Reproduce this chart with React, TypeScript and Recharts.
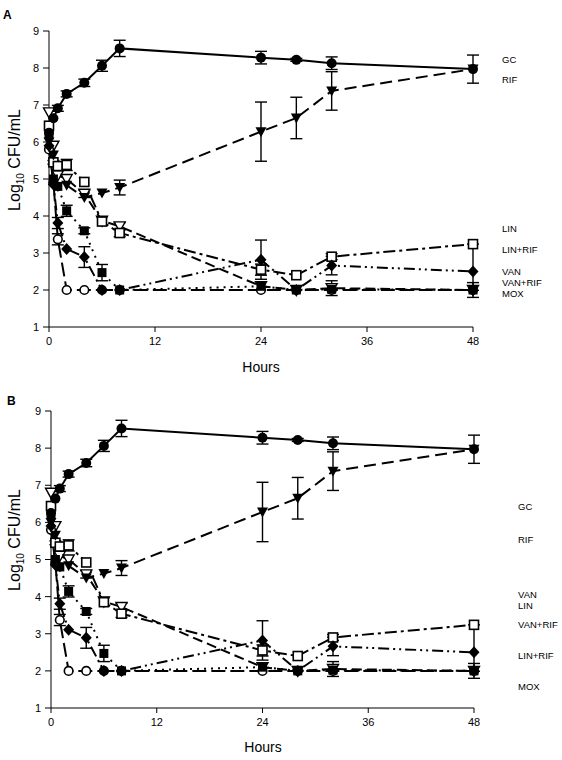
import React from 'react'
import { LineChart, Line, XAxis, YAxis, ErrorBar } from 'recharts'

// sampling times (h)
const hours = [0, 0.5, 1, 2, 4, 6, 8, 24, 28, 32, 48]

// log10 CFU/mL per regimen
const gc = [6.25, 6.64, 6.91, 7.3, 7.6, 8.06, 8.53, 8.28, 8.22, 8.13, 7.97]
const rif = [6.0, 5.65, 4.8, 4.83, 4.5, 4.62, 4.77, 6.28, 6.65, 7.38, 7.97]
const lin = [6.8, 5.9, 5.1, 5.0, 4.6, 3.87, 3.72, 2.1, 2.0, 2.05, 2.0]
const linRif = [6.44, 5.45, 5.35, 5.38, 4.92, 3.85, 3.54, 2.55, 2.4, 2.9, 3.24]
const van = [5.9, 4.85, 3.81, 3.11, 2.89, 2.0, 2.0, 2.82, 2.0, 2.66, 2.5]
const vanRif = [5.8, 4.9, 3.37, 2.0, 2.0, 2.0, 2.0, 2.0, 2.0, 2.0, 2.0]
const mox = [6.2, 5.0, 4.8, 4.14, 3.6, 2.47, 2.0, 2.1, 2.0, 2.02, 2.0]

// error bars (SD)
const gcErr = [0, 0, 0.08, 0.08, 0.1, 0.15, 0.22, 0.17, 0.04, 0.17, 0.38]
const rifErr = [0, 0, 0, 0, 0, 0, 0.2, 0.8, 0.56, 0.52, 0]
const linErr = [0, 0, 0, 0, 0.1, 0, 0.1, 0, 0, 0.2, 0]
const linRifErr: any[] = [0, 0.05, 0.1, 0.15, 0, 0, 0.1, 0.15, 0, 0.08, [1.25, 0]]
const vanErr = [0, 0, 0.15, 0, 0.28, 0, 0, 0.53, 0, 0.25, 0]
const vanRifErr = [0, 0, 0.15, 0, 0, 0, 0, 0, 0, 0, 0]
const moxErr = [0, 0, 0, 0.15, 0.08, 0.22, 0, 0, 0, 0, 0.2]

const xTicks = [0, 12, 24, 36, 48]
const yTicks = [1, 2, 3, 4, 5, 6, 7, 8, 9]

const labelsA = ['GC', 'RIF', 'LIN', 'LIN+RIF', 'VAN', 'VAN+RIF', 'MOX']
const labelsB = ['GC', 'RIF', 'VAN', 'LIN', 'VAN+RIF', 'LIN+RIF', 'MOX']

const data = hours.map((h, i) => ({
  h,
  gc: gc[i], gcErr: gcErr[i],
  rif: rif[i], rifErr: rifErr[i],
  lin: lin[i], linErr: linErr[i],
  linRif: linRif[i], linRifErr: linRifErr[i],
  van: van[i], vanErr: vanErr[i],
  vanRif: vanRif[i], vanRifErr: vanRifErr[i],
  mox: mox[i], moxErr: moxErr[i],
}))

const FONT = '"Liberation Sans", Arial, sans-serif'

function Mark({ cx, cy, shape }: { cx: number, cy: number, shape: string }) {
  if (cx == null || cy == null) return null
  switch (shape) {
    case 'circle':
      return <circle cx={cx} cy={cy} r={5} fill="#000" />
    case 'ocircle':
      return <circle cx={cx} cy={cy} r={4.3} fill="#fff" stroke="#000" strokeWidth={1.6} />
    case 'tri':
      return <polygon points={`${cx - 5.5},${cy - 4.5} ${cx + 5.5},${cy - 4.5} ${cx},${cy + 5.5}`} fill="#000" />
    case 'otri':
      return <polygon points={`${cx - 5.5},${cy - 4.5} ${cx + 5.5},${cy - 4.5} ${cx},${cy + 5.5}`} fill="#fff" stroke="#000" strokeWidth={1.4} />
    case 'osq':
      return <rect x={cx - 4.5} y={cy - 4.5} width={9} height={9} fill="#fff" stroke="#000" strokeWidth={1.6} />
    case 'sq':
      return <rect x={cx - 4.5} y={cy - 4.5} width={9} height={9} fill="#000" />
    default:
      return <polygon points={`${cx},${cy - 6} ${cx + 5.5},${cy} ${cx},${cy + 6} ${cx - 5.5},${cy}`} fill="#000" />
  }
}

const dotOf = (shape: string) => (p: any) => <Mark key={`${shape}-${p.index}`} cx={p.cx} cy={p.cy} shape={shape} />

// drawing order: open markers underneath, filled ones on top
const series = [
  { key: 'lin', shape: 'otri', dash: '10 5' },
  { key: 'vanRif', shape: 'ocircle', dash: '14 5' },
  { key: 'linRif', shape: 'osq', dash: '12 4 3 4' },
  { key: 'van', shape: 'diamond', dash: '11 4 2 4 2 4' },
  { key: 'mox', shape: 'sq', dash: '2 5' },
  { key: 'rif', shape: 'tri', dash: '12 6' },
  { key: 'gc', shape: 'circle', dash: undefined },
]

function Panel({ top, left, right, bottom, letter, letterPos, names, nameX, nameY, labelY, hoursX }: any) {
  return (
    <div style={{ position: 'absolute', left: 0, top, width: 562, height: 380 }}>
      <LineChart width={562} height={380} data={data} margin={{ top: 31, right, bottom, left }}>
        <XAxis
          type="number" dataKey="h" domain={[0, 48]} ticks={xTicks}
          stroke="#000" tickSize={5} tickMargin={5} height={30}
          tick={{ fill: '#000', fontSize: 11, fontFamily: FONT }}
        />
        <YAxis
          type="number" domain={[1, 9]} ticks={yTicks}
          stroke="#000" tickSize={6} tickMargin={4} width={40}
          tick={{ fill: '#000', fontSize: 11, fontFamily: FONT }}
        />
        {series.map(s => (
          <Line
            key={s.key} dataKey={s.key} type="linear" stroke="#000" strokeWidth={2}
            strokeDasharray={s.dash} dot={dotOf(s.shape)} activeDot={false}
            isAnimationActive={false}
          >
            <ErrorBar dataKey={`${s.key}Err`} direction="y" width={6} stroke="#000" strokeWidth={1.4} />
          </Line>
        ))}
      </LineChart>
      <div style={{ position: 'absolute', left: letterPos[0], top: letterPos[1], fontFamily: FONT, fontWeight: 'bold', fontSize: 12 }}>{letter}</div>
      <div style={{
        position: 'absolute', left: 16, top: labelY, transform: 'translate(-50%, -50%) rotate(-90deg)',
        whiteSpace: 'nowrap', fontFamily: FONT, fontSize: 16,
      }}>
        Log<sub style={{ fontSize: 10 }}>10</sub> CFU/mL
      </div>
      <div style={{ position: 'absolute', left: hoursX, top: 367 - 8, transform: 'translateX(-50%)', fontFamily: FONT, fontSize: 14 }}>Hours</div>
      {names.map((n: string, i: number) => (
        <div key={n} style={{ position: 'absolute', left: nameX, top: nameY[i] - 6, fontFamily: FONT, fontSize: 9.5, lineHeight: '12px', whiteSpace: 'nowrap' }}>{n}</div>
      ))}
    </div>
  )
}

export default function App() {
  return (
    <div style={{ position: 'absolute', left: 0, top: 0, width: 562, height: 760, background: '#fff', overflow: 'hidden' }}>
      <Panel top={0} left={9} right={89} bottom={23} letter="A" letterPos={[3, 8]}
        names={labelsA} nameX={502} nameY={[60, 80, 229, 250, 272, 283, 294]} labelY={160} hoursX={261} />
      <Panel top={380} left={11} right={88} bottom={22} letter="B" letterPos={[7, 14]}
        names={labelsB} nameX={518} nameY={[127, 160, 215, 226, 245, 276, 307]} labelY={160} hoursX={263} />
    </div>
  )
}
